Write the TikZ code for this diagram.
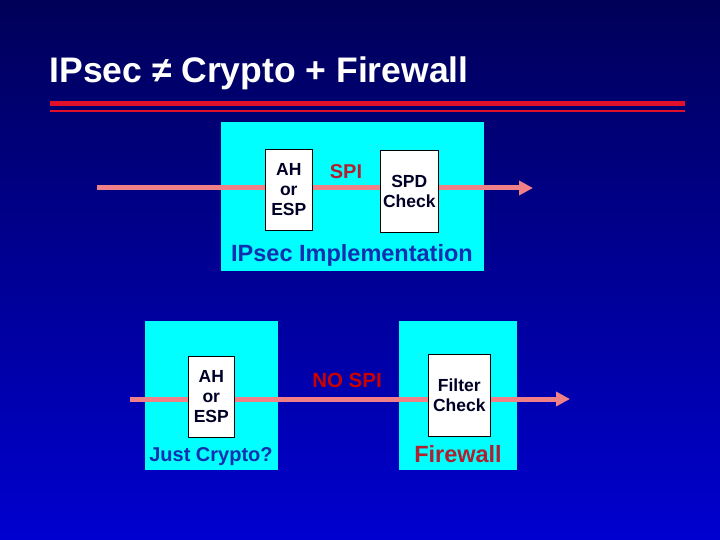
\documentclass[tikz,border=0pt]{standalone}
\usepackage{fontspec}
\setmainfont{Liberation Sans}
\usetikzlibrary{arrows.meta}
\definecolor{bgtop}{HTML}{000058}
\definecolor{bgbot}{HTML}{0000D0}
\definecolor{cyanbox}{HTML}{00FFFF}
\definecolor{pinkarrow}{HTML}{F08088}
\definecolor{darkred}{HTML}{B02030}
\definecolor{txtblue}{HTML}{1030B0}
\definecolor{redline}{HTML}{E0102A}
\tikzset{
  panel/.style={fill=cyanbox, draw=none, anchor=north west, inner sep=0pt},
  inbox/.style={fill=white, draw=black, line width=0.6pt, anchor=north west, inner sep=0pt, align=center, font=\fontsize{17.5}{20}\selectfont\bfseries, text=black!85!blue},
  flow/.style={pinkarrow, line width=5pt, -{Triangle[length=14pt,width=14pt]}},
  lbl/.style={font=\bfseries},
}
\begin{document}
\begin{tikzpicture}[x=1pt,y=-1pt]
\shade[top color=bgtop, bottom color=bgbot] (0,0) rectangle (720,540);
\useasboundingbox (0,0) rectangle (720,540);
\node[anchor=west, text=white, font=\fontsize{35.5}{40}\selectfont\bfseries] (title) at (46,73) {IPsec ≠ Crypto + Firewall};
\fill[redline] (50,101) rectangle (685,106);
\fill[redline] (50,110) rectangle (685,112);
% top
\node[panel, minimum width=263pt, minimum height=149pt] (ipsec) at (221,122) {};
\coordinate (a1) at (97,188);
\coordinate (a2) at (533,188);
\draw[flow] (a1) -- (a2);
\node[inbox, minimum width=47pt, minimum height=81pt] (ah1) at (265,149) {AH\\or\\ESP};
\node[inbox, minimum width=58pt, minimum height=82pt] (spd) at (380,150) {SPD\\Check};
\node[lbl, text=darkred, font=\fontsize{20}{24}\selectfont\bfseries] (spi) at (346,172) {SPI};
\node[lbl, text=txtblue, font=\fontsize{23.5}{28}\selectfont\bfseries] (ipl) at (352,255) {IPsec Implementation};
% bottom
\node[panel, minimum width=133pt, minimum height=149pt] (crypto) at (145,321) {};
\node[panel, minimum width=118pt, minimum height=149pt] (fw) at (399,321) {};
\coordinate (b1) at (130,399);
\coordinate (b2) at (570,399);
\draw[flow] (b1) -- (b2);
\node[inbox, minimum width=46pt, minimum height=81pt] (ah2) at (188,356) {AH\\or\\ESP};
\node[inbox, minimum width=62pt, minimum height=82pt] (filt) at (428,354) {Filter\\Check};
\node[lbl, text=txtblue, font=\fontsize{20}{24}\selectfont\bfseries] (jc) at (211,457) {Just Crypto?};
\node[lbl, text=darkred, font=\fontsize{23.5}{28}\selectfont\bfseries] (fwl) at (458,454) {Firewall};
\node[lbl, text=red!80!black, font=\fontsize{20.5}{24}\selectfont\bfseries] (nospi) at (347,380) {NO SPI};
\end{tikzpicture}
\end{document}
